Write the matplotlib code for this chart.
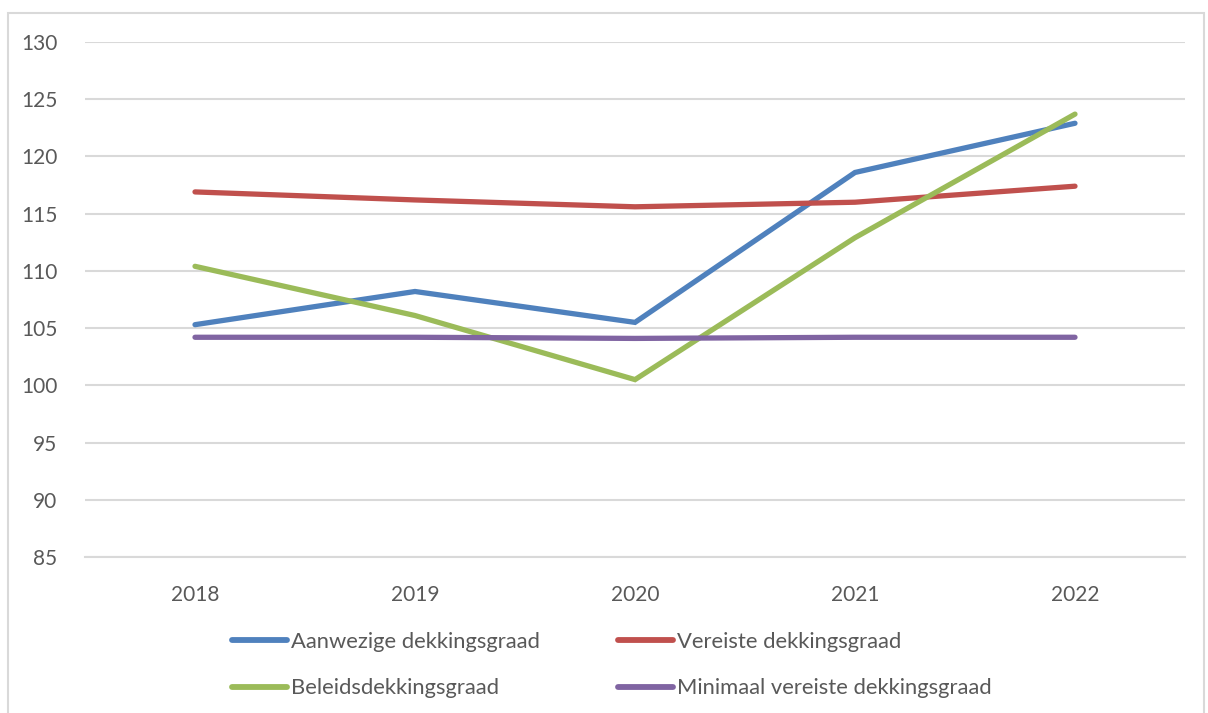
import matplotlib.pyplot as plt
from matplotlib.patches import Rectangle

jaren = ["2018", "2019", "2020", "2021", "2022"]
aanwezige = [105.3, 108.2, 105.5, 118.6, 122.9]
vereiste = [116.9, 116.2, 115.6, 116.0, 117.4]
beleids = [110.4, 106.1, 100.5, 112.9, 123.7]
minimaal = [104.2, 104.2, 104.1, 104.2, 104.2]
y_ticks = [85, 90, 95, 100, 105, 110, 115, 120, 125, 130]

plt.rcParams['font.family'] = ['Lato', 'DejaVu Sans']
tekst_kleur = '#595959'
grid_kleur = '#D9D9D9'

fig = plt.figure(figsize=(12.08, 7.13), dpi=100)
ax = fig.add_axes([85 / 1208, 1 - 557 / 713, 1100 / 1208, 515 / 713])

# kader rond de grafiek
fig.patches.append(Rectangle((8 / 1208, -0.01), 1196 / 1208, 1 - 13 / 713 + 0.01,
                             transform=fig.transFigure, fill=False,
                             edgecolor=grid_kleur, linewidth=1.5))

x = range(len(jaren))
reeksen = [
    (aanwezige, '#4F81BD', 'Aanwezige dekkingsgraad'),
    (vereiste, '#C0504D', 'Vereiste dekkingsgraad'),
    (beleids, '#9BBB59', 'Beleidsdekkingsgraad'),
    (minimaal, '#8064A2', 'Minimaal vereiste dekkingsgraad'),
]
lijnen = []
for waarden, kleur, naam in reeksen:
    l, = ax.plot(x, waarden, color=kleur, linewidth=3.8, label=naam,
                 solid_capstyle='round', solid_joinstyle='miter')
    lijnen.append(l)

ax.set_xlim(-0.5, len(jaren) - 0.5)
ax.set_ylim(85, 130)
ax.set_yticks(y_ticks)
ax.set_xticks(list(x))
ax.set_xticklabels(jaren)
ax.grid(axis='y', color=grid_kleur, linewidth=1.5)
ax.set_axisbelow(True)
for s in ['left', 'right', 'top']:
    ax.spines[s].set_visible(False)
ax.spines['bottom'].set_color(grid_kleur)
ax.spines['bottom'].set_linewidth(1.5)
ax.tick_params(length=0, labelsize=15, colors=tekst_kleur)
ax.tick_params(axis='y', pad=20)
ax.tick_params(axis='x', pad=20)

# legenda per rij gevuld: kolommen krijgen (0, 2) en (1, 3)
volgorde = [0, 2, 1, 3]
leg = fig.legend([lijnen[i] for i in volgorde], [reeksen[i][2] for i in volgorde],
                 loc='upper left', bbox_to_anchor=(232 / 1208, 1 - 632 / 713),
                 ncol=2, frameon=False, fontsize=15.8, handlelength=2.5,
                 handletextpad=0.2, columnspacing=3.55, labelspacing=1.2,
                 borderpad=0, borderaxespad=0, labelcolor=tekst_kleur)
for h in leg.legend_handles:
    h.set_linewidth(4.2)

fig.savefig('out.png', dpi=100)
